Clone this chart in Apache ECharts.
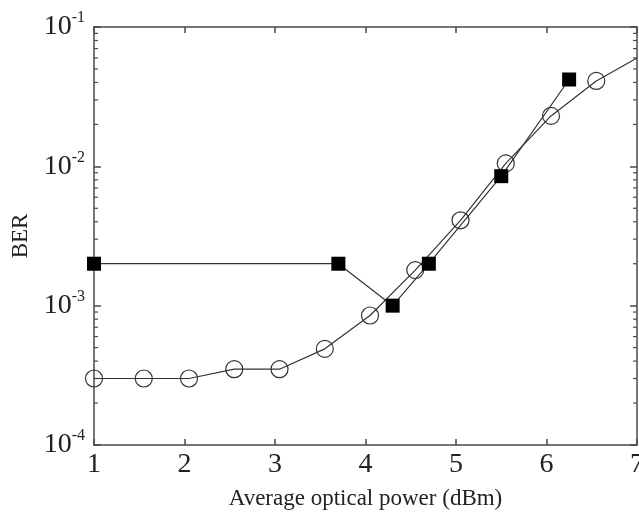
<!DOCTYPE html>
<html>
<head>
<meta charset="utf-8">
<script src="https://cdn.jsdelivr.net/npm/echarts@6/dist/echarts.min.js"></script>
<style>html,body{margin:0;padding:0;background:#fff;overflow:hidden}#c{width:639px;height:512px}</style>
</head>
<body>
<div id="c"></div>
<script>
// Data
var powerSquares = [1, 3.7, 4.3, 4.7, 5.5, 6.25];
var berSquares = [2e-3, 2e-3, 1e-3, 2e-3, 8.5e-3, 4.2e-2];
var powerCircles = [1, 1.55, 2.05, 2.55, 3.05, 3.55, 4.05, 4.55, 5.05, 5.55, 6.05, 6.55, 7];
var berCircles = [3e-4, 3e-4, 3e-4, 3.5e-4, 3.5e-4, 4.9e-4, 8.5e-4, 1.8e-3, 4.1e-3, 1.05e-2, 2.3e-2, 4.1e-2, 6e-2];
var xTicks = [1, 2, 3, 4, 5, 6, 7];
var yDecades = [-4, -3, -2, -1];
var minorMultipliers = [2, 3, 4, 5, 6, 7, 8, 9];

var FONT = 'Liberation Serif';
var INK = '#222';
var AXIS = '#4a4a4a';

var minorTickValues = [];
for (var i = 0; i < yDecades.length - 1; i++) {
  for (var j = 0; j < minorMultipliers.length; j++) {
    minorTickValues.push([minorMultipliers[j] * Math.pow(10, yDecades[i])]);
  }
}

function pairs(xs, ys) {
  return xs.map(function (x, i) { return [x, ys[i]]; });
}

var circleData = pairs(powerCircles, berCircles).map(function (p, i) {
  if (i === powerCircles.length - 1) return { value: p, symbol: 'none' };
  return p;
});

var xMin = xTicks[0], xMax = xTicks[xTicks.length - 1];
var yMin = Math.pow(10, yDecades[0]), yMax = Math.pow(10, yDecades[yDecades.length - 1]);

var chart = echarts.init(document.getElementById('c'));
var axisLineStyle = { color: AXIS, width: 1.5 };

chart.setOption({
  backgroundColor: '#fff',
  animation: false,
  grid: { left: 94, right: 2, top: 27, bottom: 67, containLabel: false, outerBoundsMode: 'none' },
  xAxis: [{
    type: 'value', min: xMin, max: xMax, interval: 1, position: 'bottom',
    axisLine: { show: true, lineStyle: axisLineStyle },
    axisTick: { show: true, inside: true, length: 6, lineStyle: { color: AXIS, width: 1.5 } },
    axisLabel: { fontFamily: FONT, fontSize: 28, color: INK, margin: 6, hideOverlap: false },
    splitLine: { show: false },
    name: 'Average optical power (dBm)', nameLocation: 'middle', nameGap: 42,
    nameTextStyle: { fontFamily: FONT, fontSize: 23, color: INK }
  }, {
    type: 'value', min: xMin, max: xMax, interval: 1, position: 'top',
    axisLine: { show: true, lineStyle: axisLineStyle },
    axisTick: { show: true, inside: true, length: 6, lineStyle: { color: AXIS, width: 1.5 } },
    axisLabel: { show: false }, splitLine: { show: false }
  }],
  yAxis: [{
    type: 'log', logBase: 10, min: yMin, max: yMax, interval: 1, position: 'left',
    axisLine: { show: true, lineStyle: axisLineStyle },
    axisTick: { show: true, inside: true, length: 7, lineStyle: { color: AXIS, width: 1.5 } },
    axisLabel: {
      margin: 9, color: INK,
      formatter: function (v) { return '{b|10}{s|' + Math.round(Math.log10(v)) + '}'; },
      rich: {
        b: { fontFamily: FONT, fontSize: 28, color: INK },
        s: { fontFamily: FONT, fontSize: 16, color: INK, padding: [0, 0, 18, 0] }
      }
    },
    splitLine: { show: false },
    name: 'BER', nameLocation: 'middle', nameGap: 60, nameRotate: 90,
    nameTextStyle: { fontFamily: FONT, fontSize: 23, color: INK }
  }, {
    type: 'log', logBase: 10, min: yMin, max: yMax, interval: 1, position: 'right',
    axisLine: { show: true, lineStyle: axisLineStyle },
    axisTick: { show: true, inside: true, length: 7, lineStyle: { color: AXIS, width: 1.5 } },
    axisLabel: { show: false }, splitLine: { show: false }
  }],
  series: [{
    type: 'custom', xAxisIndex: 0, yAxisIndex: 0, clip: false, silent: true,
    data: minorTickValues,
    renderItem: function (params, api) {
      var v = api.value(0);
      var pl = api.coord([xMin, v]);
      var pr = api.coord([xMax, v]);
      return {
        type: 'group',
        children: [
          { type: 'line', shape: { x1: pl[0], y1: pl[1], x2: pl[0] + 4, y2: pl[1] }, style: { stroke: AXIS, lineWidth: 1.2 } },
          { type: 'line', shape: { x1: pr[0], y1: pr[1], x2: pr[0] - 4, y2: pr[1] }, style: { stroke: AXIS, lineWidth: 1.2 } }
        ]
      };
    }
  }, {
    name: 'circles', type: 'line', xAxisIndex: 0, yAxisIndex: 0,
    data: circleData,
    symbol: 'circle', symbolSize: 17,
    lineStyle: { color: '#333', width: 1.2 },
    itemStyle: { color: 'rgba(0,0,0,0)', borderColor: '#333', borderWidth: 1.2 },
    z: 3
  }, {
    name: 'squares', type: 'line', xAxisIndex: 0, yAxisIndex: 0,
    data: pairs(powerSquares, berSquares),
    symbol: 'rect', symbolSize: 14,
    lineStyle: { color: '#333', width: 1.2 },
    itemStyle: { color: '#000', borderColor: '#000', borderWidth: 0 },
    z: 4
  }]
});
</script>
</body>
</html>
